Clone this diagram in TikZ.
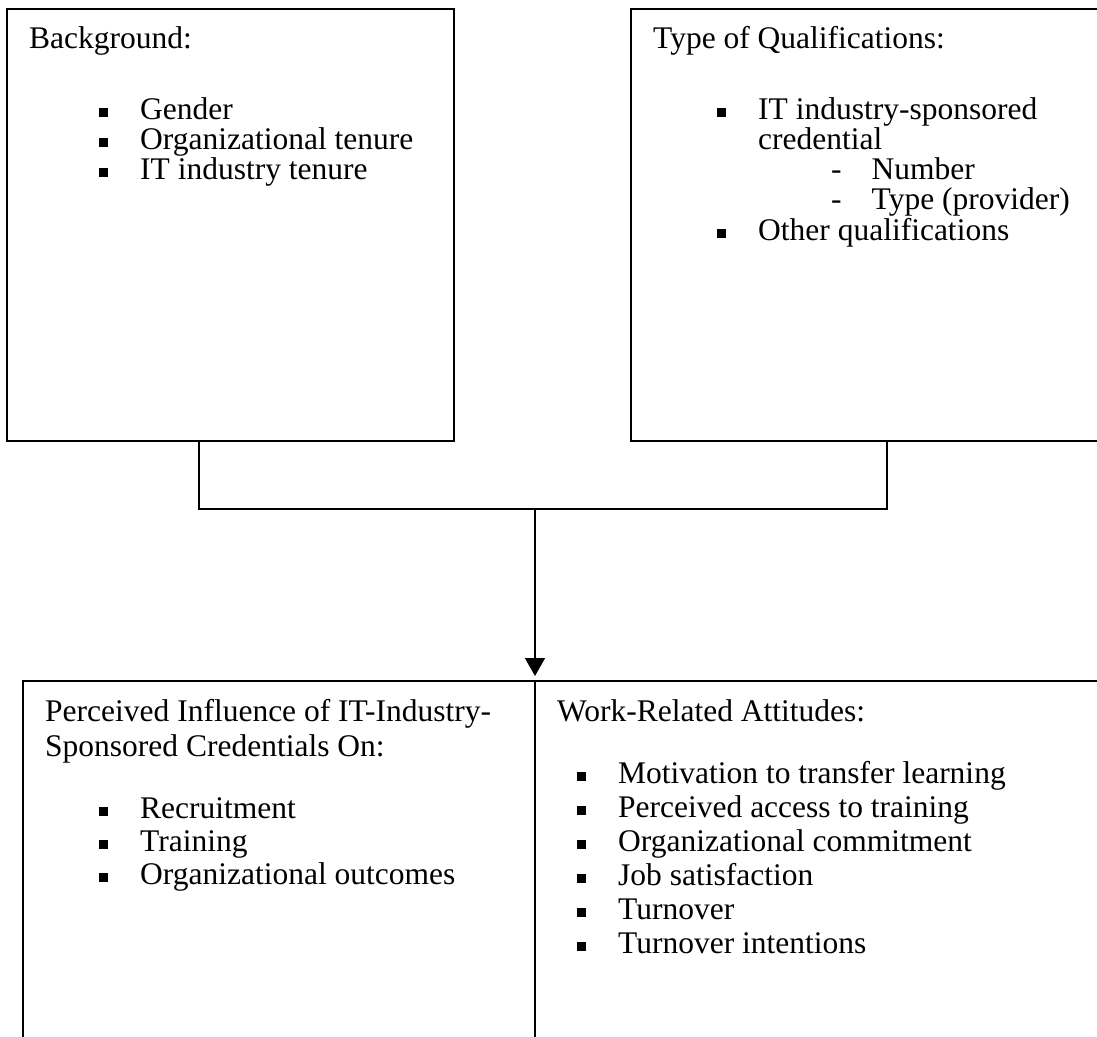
\documentclass[tikz,border=0pt]{standalone}
\usepackage{fontspec}
\setmainfont{Liberation Serif}
\usetikzlibrary{arrows.meta}
\newcommand\sqb{\rule[2.5pt]{9pt}{9pt}}
\begin{document}
\begin{tikzpicture}[x=1pt,y=-1pt,
  box/.style={draw,line width=1.6pt,anchor=north west,inner sep=0pt,outer sep=0pt},
  txt/.style={anchor=base west,inner sep=0pt,font=\fontsize{31.5}{35}\selectfont},
  conn/.style={line width=1.6pt}]
\clip (0,0) rectangle (1097,1036);
\fill[white] (0,0) rectangle (1097,1036);
% boxes
\node[box,minimum width=447pt,minimum height=432pt] (bg) at (7,9) {};
\node[box,minimum width=480pt,minimum height=432pt] (qu) at (631,9) {};
\node[box,minimum width=512pt,minimum height=380pt] (pi) at (23,681) {};
\node[box,minimum width=580pt,minimum height=380pt] (wa) at (535,681) {};
% connectors
\path (bg.south west) ++(192,0) coordinate (bgout);
\path (qu.south west) ++(256,0) coordinate (quout);
\coordinate (j) at (535,509);
\draw[conn] (bgout) |- (j) -| (quout);
\draw[conn,-{Triangle[width=20pt,length=18pt]},shorten >=5pt] (j) -- (j |- pi.north);
% Background
\node[txt] (t1) at (29,48) {Background:};
\node[txt] (b1) at (99,119) {\sqb\hspace{32pt}Gender};
\node[txt] (b2) at (99,149) {\sqb\hspace{32pt}Organizational tenure};
\node[txt] (b3) at (99,179) {\sqb\hspace{32pt}IT industry tenure};
% Qualifications
\node[txt] (t2) at (653,48) {Type of Qualifications:};
\node[txt] (q1) at (717,119) {\sqb\hspace{32pt}IT industry-sponsored};
\node[txt] (q2) at (758,149) {credential};
\node[txt] (q3) at (831,179) {-\hspace{30pt}Number};
\node[txt] (q4) at (831,209) {-\hspace{30pt}Type (provider)};
\node[txt] (q5) at (717,240) {\sqb\hspace{32pt}Other qualifications};
% Perceived influence
\node[txt] (t3) at (45,721) {Perceived Influence of IT-Industry-};
\node[txt] (t4) at (45,756) {Sponsored Credentials On:};
\node[txt] (p1) at (99,818) {\sqb\hspace{32pt}Recruitment};
\node[txt] (p2) at (99,851) {\sqb\hspace{32pt}Training};
\node[txt] (p3) at (99,884) {\sqb\hspace{32pt}Organizational outcomes};
% Work-related
\node[txt] (t5) at (557,721) {Work-Related Attitudes:};
\node[txt] (w1) at (577,783) {\sqb\hspace{32pt}Motivation to transfer learning};
\node[txt] (w2) at (577,817) {\sqb\hspace{32pt}Perceived access to training};
\node[txt] (w3) at (577,851) {\sqb\hspace{32pt}Organizational commitment};
\node[txt] (w4) at (577,885) {\sqb\hspace{32pt}Job satisfaction};
\node[txt] (w5) at (577,919) {\sqb\hspace{32pt}Turnover};
\node[txt] (w6) at (577,953) {\sqb\hspace{32pt}Turnover intentions};
\end{tikzpicture}
\end{document}
